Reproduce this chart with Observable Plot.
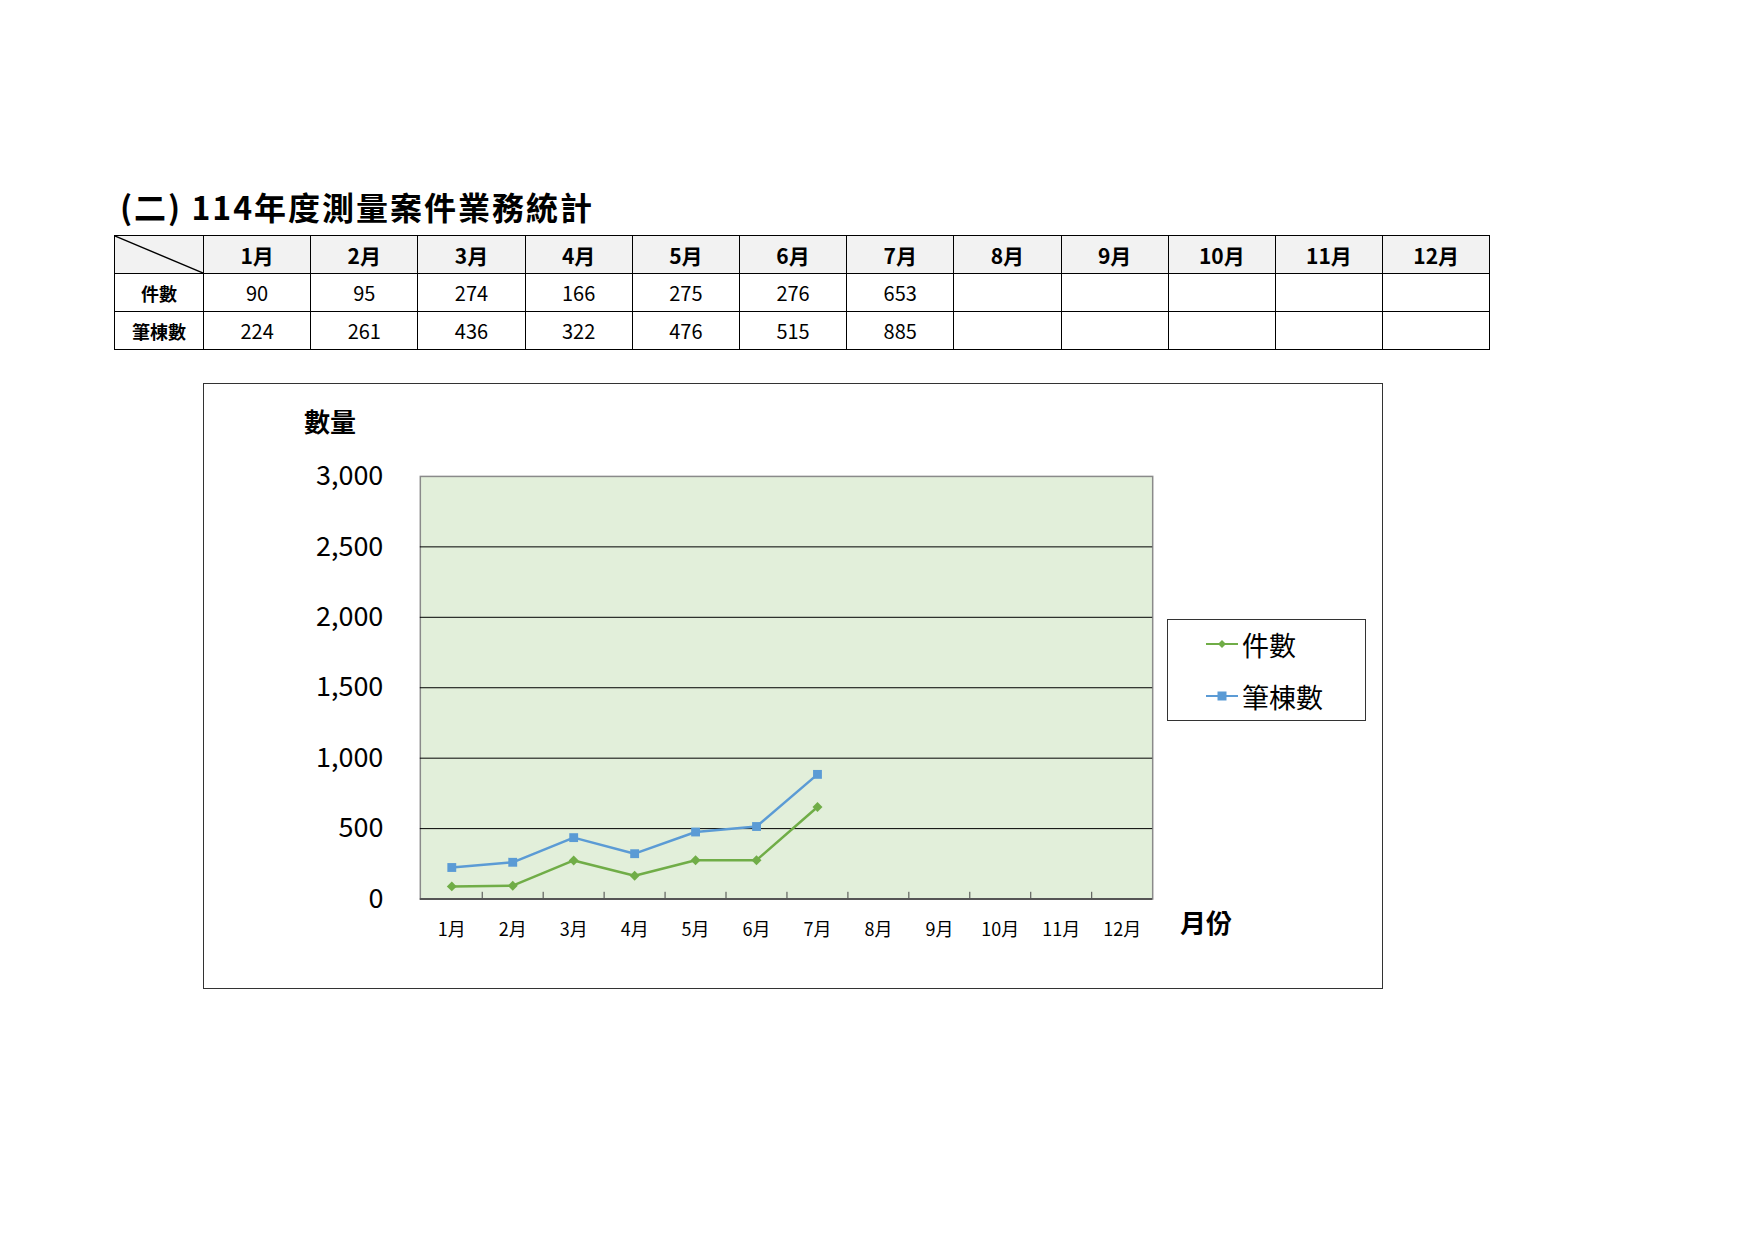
<!DOCTYPE html>
<html>
<head>
<meta charset="utf-8">
<script src="https://cdn.jsdelivr.net/npm/d3@7"></script>
<script src="https://cdn.jsdelivr.net/npm/@observablehq/plot@0.6"></script>
<style>
  html, body { margin: 0; padding: 0; background: #fff; }
  body { width: 1754px; height: 1240px; position: relative; overflow: hidden;
         font-family: "Noto Sans CJK TC", "Noto Sans", sans-serif; color: #000; }
  #title { position: absolute; left: 120px; top: 187px; font-size: 32px; font-weight: bold; line-height: 1.2; white-space: nowrap; letter-spacing: 2px; }
  #tbl { position: absolute; left: 114px; top: 235px; border-collapse: collapse; table-layout: fixed; }
  #tbl td, #tbl th { border: 1.5px solid #000; height: 37px; padding: 0; text-align: center; vertical-align: middle; }
  #tbl th { background: #f2f2f2; font-size: 21px; font-weight: bold; }
  #tbl td.lab { font-size: 18px; font-weight: bold; }
  #tbl td.num { font-family: "Liberation Sans Narrow", "Noto Sans CJK TC", sans-serif; font-size: 20px; }
  #tbl th.diag { position: relative; }
  #tbl th.diag svg { position: absolute; left: 0; top: 0; width: 100%; height: 100%; }
  #chartbox { position: absolute; left: 203px; top: 383px; width: 1180px; height: 606px; border: 1px solid #333; box-sizing: border-box; }
  #chart { position: absolute; left: -1px; top: -1px; }
  .lbl { position: absolute; font-weight: bold; font-size: 26px; line-height: 1; white-space: nowrap; }
  #legend { position: absolute; left: 963px; top: 235px; width: 199px; height: 102px; border: 1px solid #333; box-sizing: border-box; background: #fff; }
  .lgitem { position: absolute; left: 38px; height: 34px; display: flex; align-items: center; font-size: 27px; white-space: nowrap; }
  .lgitem svg { margin-right: 4px; }
</style>
</head>
<body>
<div id="title">(二) 114年度測量案件業務統計</div>
<table id="tbl"></table>
<div id="chartbox">
  <div id="chart"></div>
  <div class="lbl" id="ylab" style="left:100px; top:24px;">數量</div>
  <div class="lbl" id="xlab" style="left:976px; top:525px;">月份</div>
  <div id="legend"></div>
</div>
<script>
// ---- data ----
const months = ["1月","2月","3月","4月","5月","6月","7月","8月","9月","10月","11月","12月"];
const seriesNames = ["件數","筆棟數"];
const cases = [90, 95, 274, 166, 275, 276, 653];
const parcels = [224, 261, 436, 322, 476, 515, 885];
const yTicks = [0, 500, 1000, 1500, 2000, 2500, 3000];
const colors = ["#70ad47", "#5b9bd5"];

// ---- table ----
const tbl = document.getElementById("tbl");
const colg = document.createElement("colgroup");
colg.innerHTML = `<col style="width:89px">` + months.map(() => `<col style="width:107.2px">`).join("");
tbl.appendChild(colg);
const hr = document.createElement("tr");
hr.innerHTML = `<th class="diag"><svg viewBox="0 0 100 100" preserveAspectRatio="none"><line x1="0" y1="0" x2="100" y2="100" stroke="#000" stroke-width="1.4" vector-effect="non-scaling-stroke"/></svg></th>` + months.map(m => `<th>${m}</th>`).join("");
tbl.appendChild(hr);
[cases, parcels].forEach((arr, k) => {
  const tr = document.createElement("tr");
  tr.innerHTML = `<td class="lab">${seriesNames[k]}</td>` +
    months.map((m, i) => `<td class="num">${arr[i] !== undefined ? arr[i] : ""}</td>`).join("");
  tbl.appendChild(tr);
});

// ---- chart ----
const W = 1180, H = 606, mL = 217, mT = 93, mR = 230, mB = 90;
const bw = (W - mL - mR) / months.length;
const rowsA = cases.map((v, i) => ({month: months[i], value: v}));
const rowsB = parcels.map((v, i) => ({month: months[i], value: v}));

const chart = Plot.plot({
  width: W, height: H,
  marginLeft: mL, marginTop: mT, marginRight: mR, marginBottom: mB,
  style: {fontFamily: '"Noto Sans CJK TC", "Noto Sans", sans-serif', background: "transparent", color: "#000"},
  x: {type: "band", domain: months, padding: 0, axis: null},
  y: {domain: [0, 3000], axis: null},
  marks: [
    Plot.frame({fill: "#e2efda", stroke: "#8a8a8a", strokeWidth: 1.5}),
    Plot.ruleY(yTicks.slice(1, -1), {stroke: "#000", strokeWidth: 1}),
    Plot.ruleX(months.slice(1), {x: d => d, dx: -bw / 2, y1: 0, y2: 48, stroke: "#444", strokeWidth: 1}),
    Plot.ruleY([0], {stroke: "#555", strokeWidth: 2}),
    Plot.axisY(yTicks, {anchor: "left", label: null, tickSize: 0, tickPadding: 37, fontSize: 27, tickFormat: d3.format(",")}),
    Plot.axisX(months, {anchor: "bottom", label: null, tickSize: 0, tickPadding: 24, fontSize: 18}),
    Plot.line(rowsA, {x: "month", y: "value", stroke: colors[0], strokeWidth: 2.5}),
    Plot.dot(rowsA, {x: "month", y: "value", symbol: "diamond2", r: 4.5, fill: colors[0], stroke: "none"}),
    Plot.line(rowsB, {x: "month", y: "value", stroke: colors[1], strokeWidth: 2.5}),
    Plot.dot(rowsB, {x: "month", y: "value", symbol: "square", r: 5, fill: colors[1], stroke: "none"})
  ]
});
document.getElementById("chart").appendChild(chart);

// ---- legend ----
const legend = document.getElementById("legend");
const shapes = [
  `<polygon points="16,11 20,15 16,19 12,15" fill="${colors[0]}"/>`,
  `<rect x="11.5" y="10.5" width="9" height="9" fill="${colors[1]}"/>`
];
seriesNames.forEach((name, k) => {
  const d = document.createElement("div");
  d.className = "lgitem";
  d.style.top = (k === 0 ? 7 : 59) + "px";
  d.innerHTML = `<svg width="32" height="30"><line x1="0" y1="15" x2="32" y2="15" stroke="${colors[k]}" stroke-width="2"/>${shapes[k]}</svg>${name}`;
  legend.appendChild(d);
});
</script>
</body>
</html>
